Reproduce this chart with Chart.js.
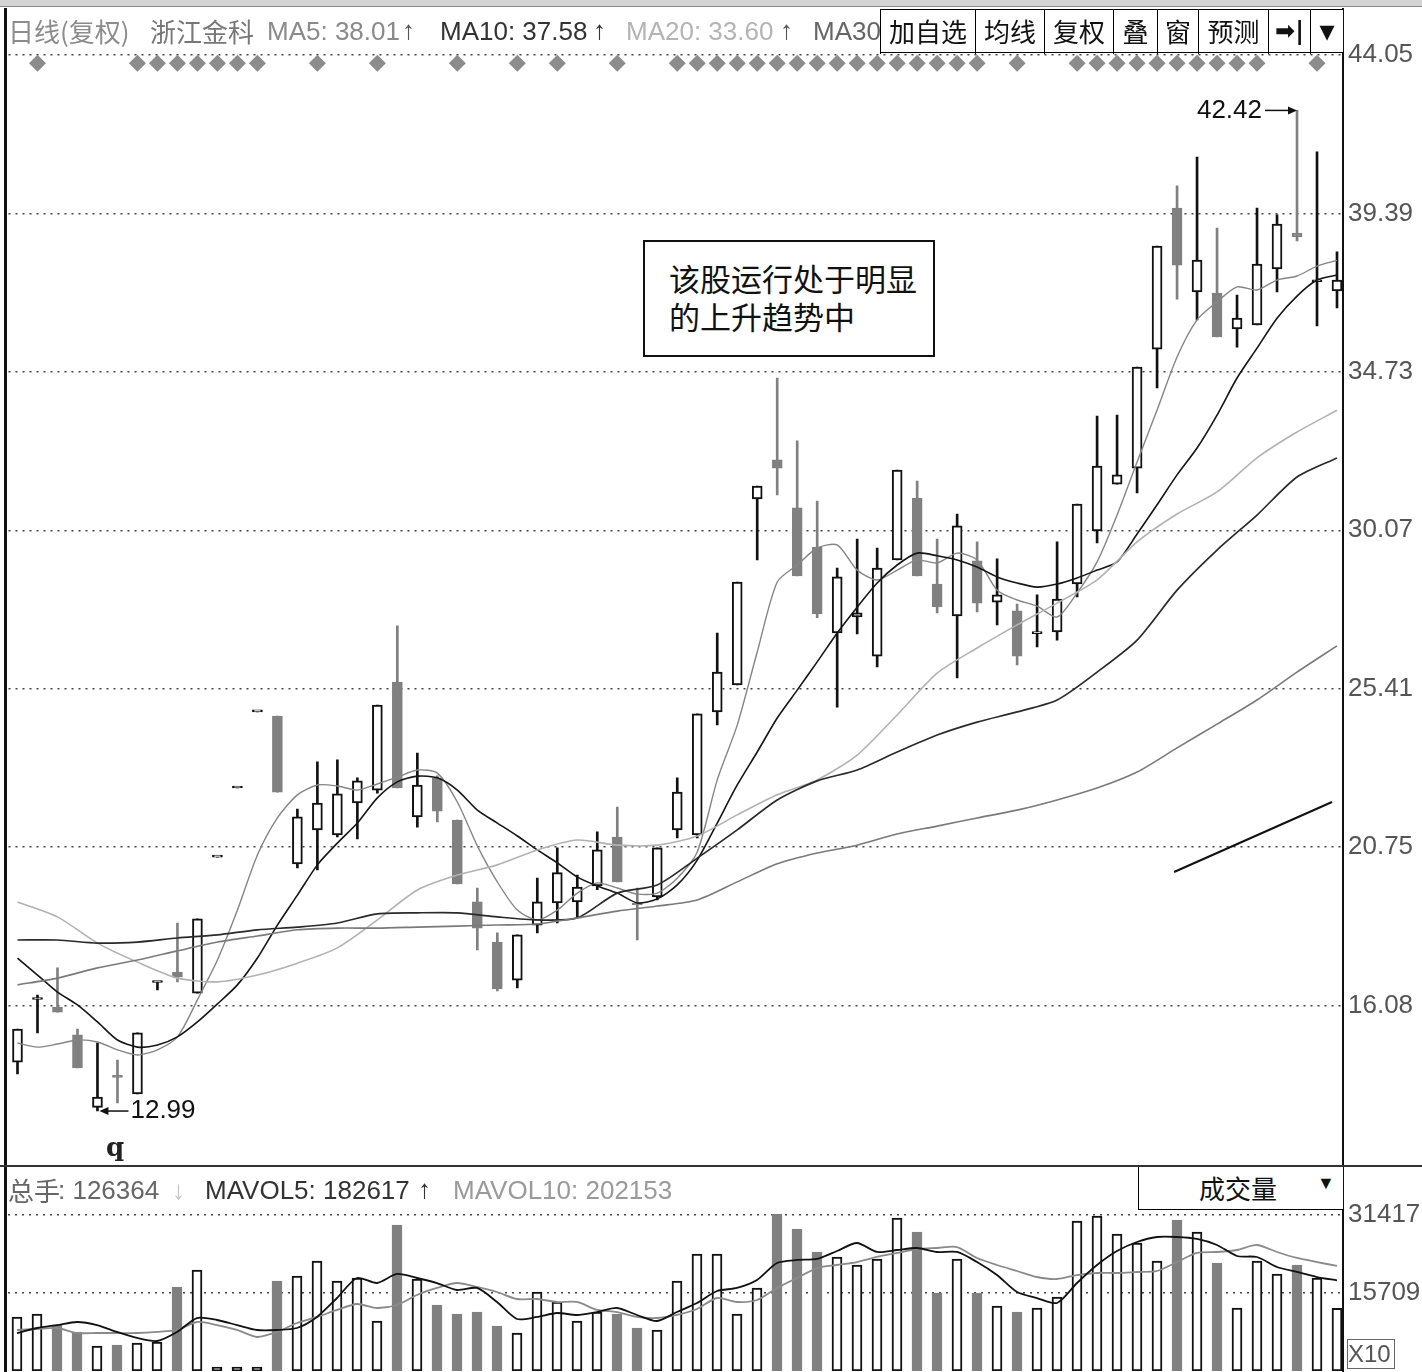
<!DOCTYPE html>
<html>
<head>
<meta charset="utf-8">
<script src="https://cdn.jsdelivr.net/npm/chart.js@4.4.0/dist/chart.umd.min.js"></script>
<style>
body { margin:0; background:#fff; width:1422px; height:1372px; overflow:hidden; position:relative; font-family:"Liberation Sans", Arial, sans-serif; }
.abs { position:absolute; white-space:nowrap; }
#priceChart { position:absolute; left:0; top:0; }
#volChart { position:absolute; left:0; top:1167px; }
.cjk { font-family:"Noto Sans CJK SC", sans-serif; }
.hd { position:absolute; font-size:26px; line-height:36px; white-space:nowrap; }
.btn { position:absolute; top:0; height:44px; line-height:42px; text-align:center; font-size:26px; color:#111; border-left:1.5px solid #000; box-sizing:border-box; font-family:"Noto Sans CJK SC", sans-serif; }
</style>
</head>
<body>
<canvas id="priceChart" width="1422" height="1166"></canvas>
<canvas id="volChart" width="1422" height="205"></canvas>

<!-- frame -->
<div class="abs" style="left:0;top:0;width:1422px;height:6px;background:#d4d4d4;"></div>
<div class="abs" style="left:0;top:6px;width:1422px;height:1px;background:#888;"></div>
<div class="abs" style="left:4px;top:8px;width:3px;height:1364px;background:#111;"></div>
<div class="abs" style="left:1342px;top:8px;width:2px;height:1364px;background:#111;"></div>
<div class="abs" style="left:0;top:1165px;width:1422px;height:2px;background:#333;"></div>

<!-- header -->
<div class="hd cjk" style="left:8px;top:13px;color:#8c8c8c;">日线(复权)</div>
<div class="hd cjk" style="left:150px;top:13px;color:#777;">浙江金科</div>
<div class="hd" style="left:267px;top:13px;color:#8a8a8a;">MA5: 38.01</div>
<div class="hd" style="left:402px;top:12px;color:#555;font-weight:bold;">↑</div>
<div class="hd" style="left:440px;top:13px;color:#333;">MA10: 37.58</div>
<div class="hd" style="left:593px;top:12px;color:#333;font-weight:bold;">↑</div>
<div class="hd" style="left:626px;top:13px;color:#b4b4b4;">MA20: 33.60</div>
<div class="hd" style="left:780px;top:12px;color:#555;font-weight:bold;">↑</div>
<div class="hd" style="left:813px;top:13px;color:#666;">MA30</div>
<div class="abs" id="toolbar" style="left:880px;top:9px;width:463px;height:44px;border-top:1.5px solid #000;border-bottom:1.5px solid #000;background:#fff;box-sizing:border-box;"></div>

<!-- annotation -->
<div class="abs cjk" style="left:643px;top:240px;width:292px;height:117px;border:2px solid #111;box-sizing:border-box;background:#fff;font-size:31px;line-height:38px;color:#111;padding:17px 0 0 24px;">该股运行处于明显<br>的上升趋势中</div>
<div class="abs" style="left:106px;top:1132px;font-size:26px;font-weight:bold;color:#222;font-family:'DejaVu Serif',serif;">q</div>

<!-- volume header -->
<div class="abs" style="left:0;top:1172px;width:675px;height:40px;overflow:hidden;">
  <div class="hd cjk" style="left:8px;top:0;color:#666;">总手</div>
  <div class="hd" style="left:58px;top:0;color:#666;">: 126364</div>
  <div class="hd" style="left:172px;top:0;color:#c4c4c4;font-weight:bold;">↓</div>
  <div class="hd" style="left:205px;top:0;color:#333;">MAVOL5: 182617</div>
  <div class="hd" style="left:418px;top:-1px;color:#333;font-weight:bold;">↑</div>
  <div class="hd" style="left:453px;top:0;color:#9a9a9a;">MAVOL10: 202153</div>
</div>
<div class="abs" style="left:1138px;top:1167px;width:205px;height:43px;border-left:1.5px solid #000;border-bottom:1.5px solid #000;box-sizing:border-box;background:#fff;">
  <span class="abs cjk" style="left:60px;top:2px;font-size:26px;color:#111;">成交量</span>
  <span class="abs" style="left:178px;top:6px;font-size:18px;color:#111;">▼</span>
</div>
<div class="abs" style="left:1347px;top:1339px;width:48px;height:30px;border:1px solid #666;box-sizing:border-box;font-size:24px;line-height:28px;color:#555;">X10</div>

<script>
// ---- price data ----
const opens = [14.43,16.27,16.05,15.23,13.10,14.02,13.49,16.77,17.08,16.46,
  20.46,22.49,24.73,24.61,20.26,21.26,21.11,22.05,22.43,25.61,
  21.64,22.79,21.55,19.14,17.96,16.84,18.46,19.11,19.14,19.61,
  21.05,19.07,19.29,21.26,21.11,24.73,25.52,30.99,32.14,30.73,
  29.58,27.05,27.52,26.37,29.20,31.02,28.49,27.55,29.17,27.96,
  27.70,27.03,27.08,28.49,30.05,31.43,31.90,35.40,39.55,37.08,
  37.05,35.99,36.11,37.76,38.81,37.38,37.11];
const highs = [15.40,16.40,17.20,15.40,14.99,14.49,15.29,16.79,18.52,18.64,
  20.46,22.49,24.73,24.61,21.87,23.26,23.32,22.79,24.93,27.26,
  23.52,22.85,21.55,19.55,18.23,18.17,19.84,20.73,19.93,21.20,
  21.93,19.55,20.73,22.79,24.67,27.05,28.55,31.37,34.55,32.70,
  30.93,28.96,29.81,29.55,31.84,31.52,29.81,30.55,29.73,29.23,
  27.90,28.17,29.73,30.84,33.43,33.46,34.87,38.43,40.20,41.05,
  38.96,36.99,39.55,39.35,42.42,41.20,38.26];
const lows = [14.08,15.29,15.90,14.26,12.99,13.23,13.49,16.55,16.79,16.46,
  20.46,22.49,24.73,22.37,20.14,20.08,21.05,20.99,22.34,22.49,
  21.34,21.49,19.67,17.73,16.52,16.61,18.23,18.52,18.70,19.50,
  19.73,18.02,19.20,21.02,21.02,24.35,25.52,29.20,31.11,28.73,
  27.50,24.87,27.02,26.05,29.20,28.73,27.64,25.73,27.67,27.29,
  26.11,26.64,26.84,28.11,29.70,31.43,31.17,34.26,36.87,36.26,
  35.76,35.46,36.11,37.08,38.58,36.08,36.61];
const closes = [15.40,16.29,15.90,14.26,13.40,13.98,15.29,16.79,16.93,18.64,
  20.46,22.49,24.73,22.37,21.64,22.05,22.32,22.70,24.93,22.49,
  22.58,21.81,19.67,18.37,16.58,18.17,19.14,20.00,19.58,20.67,
  19.73,19.05,20.73,22.37,24.67,25.90,28.55,31.37,31.90,28.73,
  27.61,28.70,27.64,28.96,31.84,28.73,27.82,30.20,27.93,28.17,
  26.37,27.05,28.05,30.84,31.96,31.70,34.87,38.43,37.87,38.02,
  35.76,36.31,37.90,39.08,38.70,37.40,37.43];

// moving averages as drawn (MA5/MA10 every day, the long ones every 2nd day)
const ma5 = [14.99,14.87,14.96,15.08,15.02,14.79,14.64,14.79,15.17,16.26,
  17.43,18.90,20.52,21.61,22.29,22.58,22.55,22.43,22.61,22.81,
  23.02,22.93,22.08,20.79,19.73,18.90,18.61,18.90,19.40,19.70,
  19.55,19.37,19.40,19.84,20.61,22.73,24.34,26.49,28.55,29.05,
  29.55,29.64,28.90,28.61,28.90,29.20,29.11,29.40,29.20,28.31,
  28.02,27.84,27.52,28.23,29.14,30.52,32.08,33.61,35.17,36.26,
  36.79,37.23,37.14,37.43,37.55,37.84,38.01];
const ma10 = [17.49,16.99,16.49,16.11,15.61,15.08,14.87,14.93,15.17,15.61,
  16.14,16.70,17.49,18.46,19.34,20.23,20.87,21.46,22.20,22.67,
  22.84,22.79,22.43,21.84,21.46,21.08,20.67,20.29,19.87,19.61,
  19.40,19.11,19.23,19.64,20.37,21.46,22.58,23.55,24.55,25.37,
  26.20,27.05,27.81,28.52,29.05,29.40,29.32,29.20,28.99,28.70,
  28.52,28.40,28.49,28.67,28.90,29.14,29.96,30.82,31.70,32.49,
  33.46,34.55,35.43,36.31,36.96,37.43,37.58];
const longIdx = Array.from({length: 34}, (_, k) => k * 2);
const ma20 = [19.14,18.70,17.93,17.37,16.90,16.79,16.99,17.34,17.79,18.61,19.49,19.93,20.23,20.67,20.96,20.81,20.81,21.08,21.70,22.29,22.73,23.46,24.64,25.87,26.61,27.29,27.93,28.61,29.73,30.55,31.20,32.20,32.96,33.60];
const ma30 = [18.02,18.02,17.93,17.96,18.08,18.17,18.32,18.40,18.52,18.79,18.82,18.82,18.70,18.61,18.67,19.40,19.64,20.43,21.26,22.14,22.70,23.02,23.55,24.05,24.43,24.73,25.08,25.90,26.84,28.31,29.49,30.52,31.64,32.20];
const ma60 = [16.70,16.90,17.20,17.43,17.70,17.96,18.14,18.32,18.37,18.37,18.40,18.43,18.46,18.49,18.67,18.87,19.02,19.20,19.73,20.26,20.58,20.81,21.14,21.37,21.61,21.84,22.14,22.49,22.96,23.67,24.37,25.08,25.90,26.67];

// signal diamonds along the top, and the hand-drawn trend line
const signalDays = [1,6,7,8,9,10,11,12,15,18,22,25,27,30,33,34,35,36,37,38,39,40,41,42,43,44,45,46,47,48,50,53,54,55,56,57,58,59,60,61,62,65];
const signalLevel = 43.81;
const trendX = [57.85, 65.75];
const trendY = [20.02, 22.08];

const priceTicks = [16.08, 20.75, 25.41, 30.07, 34.73, 39.39, 44.05];

// ---- volume data (x10 shares) ----
const volumes = [10880,11480,9260,7850,5040,5240,5640,5840,16920,20340,
  800,800,800,18130,19130,22150,18130,18730,10070,29400,
  18530,13290,11480,11880,9060,7650,15910,13900,10070,11880,
  11480,8660,8260,18130,23560,23560,11480,16720,31620,28600,
  23970,22960,21350,22560,30810,28000,15710,22560,15710,13090,
  11880,12690,14900,30210,31220,27590,25780,22150,30410,28000,
  21750,12690,22150,19540,21350,18730,12636];
const mavol5 = [7650,8660,9260,9870,9260,7860,6650,6040,7860,10670,
  10270,9260,8260,8260,8660,10880,14700,18730,17720,19540,
  18730,17720,16310,16720,13900,10470,10880,11680,11280,11880,
  12690,11280,10070,11880,13700,16110,16720,18330,21750,22360,
  22560,24170,25780,23970,24370,24770,23970,23970,21950,19330,
  15910,14700,13700,17720,21350,24170,25980,26990,26990,26590,
  25380,23160,22960,20950,19940,18930,18262];
const mavol10 = [8260,8460,8660,7650,7650,7650,7650,7860,8260,9870,
  9260,8260,6850,7860,9670,10880,12290,13490,12690,13290,
  15310,16720,17720,16920,15910,14500,14500,13900,13900,12290,
  11880,10880,10670,11280,12490,14700,13900,14300,16720,18730,
  20740,21350,21950,22960,23770,24570,24770,24970,22760,21350,
  20140,18930,18530,19330,19740,19740,19940,20140,21950,23770,
  23970,24370,25380,23970,22760,21950,21150];
const volTicks = [15709, 31417];

const upEdge = '#111';
const downFill = '#808080';
const axisFont = { family: '"Liberation Sans", Arial, sans-serif', size: 26 };

const isUp = closes.map((c, i) => c >= opens[i]);
const xy = (arr, idx) => arr.map((v, k) => ({ x: idx ? idx[k] : k, y: v }));

function maLine(data, color, width) {
  return { type: 'line', data: data, borderColor: color, borderWidth: width,
    pointRadius: 0, tension: 0.25, fill: false, order: 0 };
}

// right-hand value axis with fixed width and no label padding
function rightAxis(min, max, tickValues, fmt) {
  return {
    position: 'right', min: min, max: max,
    afterBuildTicks: s => { s.ticks = tickValues.map(v => ({ value: v })); },
    afterFit: s => { s.width = 79; s.paddingTop = 0; s.paddingBottom = 0; },
    ticks: { color: '#555', font: axisFont, padding: 5, callback: fmt },
    grid: { color: '#444', lineWidth: 1.5, drawTicks: false },
    border: { display: false, dash: [2, 5] }
  };
}
const xAxis = { type: 'linear', min: -0.45, max: 66.3, offset: false, display: false };

// set the value range so that the axis lands where it sits in the screenshot
function pinAxis(chart, canvasTop, valueAt) {
  const a = chart.chartArea;
  chart.options.scales.y.min = valueAt(a.bottom + canvasTop);
  chart.options.scales.y.max = valueAt(a.top + canvasTop);
  chart.update();
}

// ---- toolbar buttons ----
const buttons = [[880, 975, '加自选'], [975, 1044, '均线'], [1044, 1113, '复权'], [1113, 1157, '叠'],
  [1157, 1198, '窗'], [1198, 1268, '预测'], [1268, 1310, '➡|'], [1310, 1343, '▾']];
const bar = document.getElementById('toolbar');
buttons.forEach(([a, b, t]) => {
  const d = document.createElement('div');
  d.className = 'btn';
  d.style.left = (a - 880) + 'px';
  d.style.width = (b - a) + 'px';
  d.textContent = t;
  if (t === '➡|') { d.style.fontWeight = 'bold'; d.style.fontFamily = '"DejaVu Sans", sans-serif'; d.style.fontSize = '24px'; }
  if (t === '▾') { d.style.fontFamily = '"DejaVu Sans", sans-serif'; d.style.fontSize = '30px'; }
  bar.appendChild(d);
});

// ---- high / low markers ----
const extremesPlugin = {
  id: 'extremes',
  afterDatasetsDraw(chart) {
    const { ctx } = chart;
    const xs = chart.scales.x, ys = chart.scales.y;
    const hi = Math.max(...highs), hiIdx = highs.indexOf(hi);
    const lo = Math.min(...lows), loIdx = lows.indexOf(lo);
    ctx.save();
    ctx.font = '26px "Liberation Sans", Arial, sans-serif';
    ctx.fillStyle = '#111';
    ctx.strokeStyle = '#111';
    ctx.lineWidth = 1.5;
    ctx.textBaseline = 'middle';

    let px = xs.getPixelForValue(hiIdx), py = ys.getPixelForValue(hi);
    ctx.beginPath(); ctx.moveTo(px - 32, py); ctx.lineTo(px - 4, py); ctx.stroke();
    ctx.beginPath(); ctx.moveTo(px, py); ctx.lineTo(px - 9, py - 4); ctx.lineTo(px - 9, py + 4); ctx.closePath(); ctx.fill();
    ctx.textAlign = 'right';
    ctx.fillText(hi.toFixed(2), px - 35, py);

    px = xs.getPixelForValue(loIdx); py = ys.getPixelForValue(lo);
    ctx.beginPath(); ctx.moveTo(px + 6, py); ctx.lineTo(px + 31, py); ctx.stroke();
    ctx.beginPath(); ctx.moveTo(px + 2, py); ctx.lineTo(px + 11, py - 4); ctx.lineTo(px + 11, py + 4); ctx.closePath(); ctx.fill();
    ctx.textAlign = 'left';
    ctx.fillText(lo.toFixed(2), px + 33, py);
    ctx.restore();
  }
};

// ---- price chart ----
const priceChart = new Chart(document.getElementById('priceChart'), {
  type: 'bar',
  data: {
    datasets: [
      { type: 'bar', data: closes.map((c, i) => ({ x: i, y: [lows[i], highs[i]] })),
        backgroundColor: isUp.map(u => u ? upEdge : downFill), borderWidth: 0,
        barThickness: 2, grouped: false, order: 3 },
      { type: 'bar', data: closes.map((c, i) => ({ x: i, y: [opens[i], c] })),
        backgroundColor: isUp.map(u => u ? '#fff' : downFill),
        borderColor: isUp.map(u => u ? upEdge : downFill),
        borderWidth: 2, borderSkipped: false, minBarLength: 2,
        barThickness: 10, grouped: false, order: 2 },
      maLine(xy(ma60, longIdx), '#7a7a7a', 1.6),
      maLine(xy(ma30, longIdx), '#2a2a2a', 1.7),
      maLine(xy(ma20, longIdx), '#b2b2b2', 1.6),
      maLine(xy(ma10), '#151515', 1.6),
      maLine(xy(ma5), '#858585', 1.4),
      { type: 'line', data: trendX.map((v, k) => ({ x: v, y: trendY[k] })),
        borderColor: '#111', borderWidth: 2, pointRadius: 0, order: 0 },
      { type: 'line', data: signalDays.map(d => ({ x: d, y: signalLevel })),
        showLine: false, pointStyle: 'rectRot', pointRadius: 8.5,
        pointBackgroundColor: '#8c8c8c', pointBorderWidth: 0, order: 0 }
    ]
  },
  options: {
    responsive: false,
    animation: false,
    events: [],
    layout: { padding: { left: 8, top: 45, right: 0, bottom: 1 } },
    plugins: { legend: { display: false }, tooltip: { enabled: false } },
    scales: {
      x: xAxis,
      y: rightAxis(11.403, 44.344, priceTicks, v => v.toFixed(2))
    }
  },
  plugins: [extremesPlugin]
});
// 44.05 sits at y=55, 34 px per yuan
pinAxis(priceChart, 0, y => 44.05 - (y - 55) / 34.0);

// ---- volume chart ----
const volChart = new Chart(document.getElementById('volChart'), {
  type: 'bar',
  data: {
    datasets: [
      { type: 'bar', data: volumes.map((v, i) => ({ x: i, y: v })),
        backgroundColor: isUp.map(u => u ? '#fff' : downFill),
        borderColor: isUp.map(u => u ? upEdge : downFill),
        borderWidth: 2, borderSkipped: false,
        barThickness: 10, grouped: false, order: 2 },
      { type: 'line', data: xy(mavol10), borderColor: '#8a8a8a', borderWidth: 1.8,
        pointRadius: 0, tension: 0.25, order: 1 },
      { type: 'line', data: xy(mavol5), borderColor: '#111', borderWidth: 1.8,
        pointRadius: 0, tension: 0.25, order: 0 }
    ]
  },
  options: {
    responsive: false,
    animation: false,
    events: [],
    layout: { padding: { left: 8, top: 1, right: 0, bottom: 1 } },
    plugins: { legend: { display: false }, tooltip: { enabled: false } },
    scales: {
      x: xAxis,
      y: rightAxis(0, 40884, volTicks, v => String(v))
    }
  }
});
// zero volume at y=1371, 15709 at y=1293
pinAxis(volChart, 1167, y => (1371 - y) * 15709 / 78);
</script>
</body>
</html>
